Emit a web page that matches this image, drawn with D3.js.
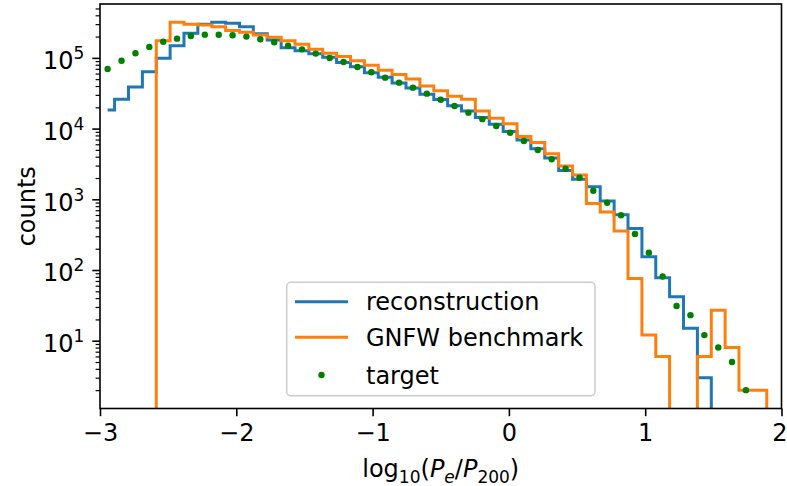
<!DOCTYPE html>
<html>
<head>
<meta charset="utf-8">
<script src="https://cdn.jsdelivr.net/npm/d3@7"></script>
<style>
  body { margin: 0; background: #fff; }
  text { font-family: "DejaVu Sans", sans-serif; }
</style>
</head>
<body>
<svg id="chart" width="787" height="486"></svg>
<script>
// bin centres of log10(Pe/P200)
const centers = [
  -2.944, -2.842, -2.740, -2.638, -2.536, -2.435, -2.333, -2.231, -2.129, -2.027,
  -1.926, -1.824, -1.722, -1.620, -1.518, -1.417, -1.315, -1.213, -1.111, -1.009,
  -0.908, -0.806, -0.704, -0.602, -0.500, -0.399, -0.297, -0.195, -0.093, 0.009,
  0.110, 0.212, 0.314, 0.416, 0.518, 0.619, 0.721, 0.823, 0.925, 1.027,
  1.128, 1.230, 1.332, 1.434, 1.536, 1.637, 1.739, 1.841, 1.943
];

// counts per bin
const reconstruction = [
  18300, 26000, 38700, 63800, 98700, 149000, 223000, 299000, 319000, 308000,
  276000, 220000, 179000, 139000, 126000, 114000, 102000, 86000, 75000, 61500,
  53000, 44000, 37500, 30500, 25800, 21000, 17800, 14300, 11500, 9100,
  6900, 5200, 3850, 2550, 1920, 1510, 946, 605, 385, 154,
  78, 42, 15, 3, 0, 0, 0, 0, 0
];

const benchmark = [
  0, 0, 0, 0, 175000, 319000, 300000, 292000, 276000, 243000,
  230000, 211000, 195000, 175000, 156000, 132000, 116000, 105000, 91200, 78500,
  67000, 58000, 50100, 40100, 34400, 28600, 26100, 17700, 14000, 11700,
  7700, 6350, 4400, 2960, 2200, 870, 660, 355, 76, 12,
  6, 0, 0, 6, 27, 8, 2, 2, 0
];

const target = [
  69700, 91200, 116000, 143000, 169000, 187000, 204000, 213000, 212000, 209000,
  200000, 183000, 166000, 149000, 132000, 115000, 99800, 87500, 74300, 62500,
  52500, 44600, 37900, 31200, 25600, 20900, 16800, 13600, 10900, 8750,
  6680, 4980, 3680, 2710, 2020, 1320, 895, 594, 323, 176,
  81, 31, 23, 12, 8, 5, 2, 1
];

const xTicks = [-3, -2, -1, 0, 1, 2];
const yTicks = [10, 100, 1000, 10000, 100000];
const seriesNames = ['reconstruction', 'GNFW benchmark', 'target'];

const svg = d3.select('#chart');
const width = 787, height = 486;
const margin = { left: 100, right: 5.5, top: 4, bottom: 77.5 };
const plotW = width - margin.left - margin.right;
const plotH = height - margin.top - margin.bottom;
const fontSize = 24;
const subSize = 17;

const x = d3.scaleLinear().domain([-3, 2]).range([0, plotW]);
const y = d3.scaleLog().domain([1.1, 5.78e5]).range([plotH, 0]);

const g = svg.append('g').attr('transform', `translate(${margin.left},${margin.top})`);

// clip to the axes box
svg.append('defs').append('clipPath')
  .attr('id', 'plot-clip')
  .append('rect')
  .attr('width', plotW)
  .attr('height', plotH);

const plot = g.append('g').attr('clip-path', 'url(#plot-clip)');

// zero counts go far below the axis, like matplotlib's log clipping
const yv = v => y(Math.max(v, 1e-3));

const stepLine = d3.line()
  .x((d, i) => x(centers[i]))
  .y(d => yv(d))
  .curve(d3.curveStep);

plot.append('path')
  .datum(reconstruction)
  .attr('d', stepLine)
  .attr('fill', 'none')
  .attr('stroke', '#1f77b4')
  .attr('stroke-width', 3);

plot.append('path')
  .datum(benchmark)
  .attr('d', stepLine)
  .attr('fill', 'none')
  .attr('stroke', '#ff7f0e')
  .attr('stroke-width', 3);

plot.selectAll('circle.target')
  .data(target)
  .enter()
  .append('circle')
  .attr('class', 'target')
  .attr('cx', (d, i) => x(centers[i]))
  .attr('cy', d => yv(d))
  .attr('r', 3.2)
  .attr('fill', 'green');

// x axis
const xAxis = g.append('g')
  .attr('transform', `translate(0,${plotH})`)
  .call(d3.axisBottom(x)
    .tickValues(xTicks)
    .tickSize(7.7)
    .tickPadding(8)
    .tickFormat(d => d < 0 ? '\u2212' + Math.abs(d) : String(d)));
xAxis.select('.domain').remove();
xAxis.selectAll('line').attr('stroke', '#000').attr('stroke-width', 1.6);
xAxis.selectAll('text').attr('font-size', fontSize).attr('fill', '#000')
  .attr('font-family', '"DejaVu Sans", sans-serif');
// keep the last label inside the page edge
xAxis.selectAll('text').filter(d => d === 2).attr('dx', -2);

// y axis, minor ticks first
const minorTicks = [];
for (let e = 0; e <= 5; e++) {
  for (let m = 2; m <= 9; m++) {
    const v = m * Math.pow(10, e);
    if (v >= y.domain()[0] && v <= y.domain()[1]) minorTicks.push(v);
  }
}
const yMinor = g.append('g')
  .call(d3.axisLeft(y).tickValues(minorTicks).tickSize(4.4).tickFormat(''));
yMinor.select('.domain').remove();
yMinor.selectAll('line').attr('stroke', '#000').attr('stroke-width', 1.2);

const yAxis = g.append('g')
  .call(d3.axisLeft(y).tickValues(yTicks).tickSize(7.7).tickPadding(8).tickFormat(''));
yAxis.select('.domain').remove();
yAxis.selectAll('line').attr('stroke', '#000').attr('stroke-width', 1.6);
yAxis.selectAll('.tick text').each(function (d) {
  const t = d3.select(this)
    .attr('font-size', fontSize)
    .attr('fill', '#000')
    .attr('font-family', '"DejaVu Sans", sans-serif')
    .attr('dy', '0.45em');
  t.text('10');
  t.append('tspan')
    .attr('font-size', subSize)
    .attr('dy', -10)
    .text(Math.round(Math.log10(d)));
});

// axes box
g.append('rect')
  .attr('width', plotW)
  .attr('height', plotH)
  .attr('fill', 'none')
  .attr('stroke', '#000')
  .attr('stroke-width', 1.6);

// axis labels
const xLabel = svg.append('text')
  .attr('x', margin.left + plotW / 2)
  .attr('y', 477)
  .attr('text-anchor', 'middle')
  .attr('font-size', fontSize);
xLabel.append('tspan').text('log');
xLabel.append('tspan').attr('font-size', subSize).attr('dy', 6).text('10');
xLabel.append('tspan').attr('dy', -6).text('(');
xLabel.append('tspan').attr('font-style', 'italic').text('P');
xLabel.append('tspan').attr('font-size', subSize).attr('font-style', 'italic').attr('dy', 6).text('e');
xLabel.append('tspan').attr('dy', -6).text('/');
xLabel.append('tspan').attr('font-style', 'italic').text('P');
xLabel.append('tspan').attr('font-size', subSize).attr('dy', 6).text('200');
xLabel.append('tspan').attr('dy', -6).text(')');

svg.append('text')
  .attr('transform', `translate(35,${margin.top + plotH / 2}) rotate(-90)`)
  .attr('text-anchor', 'middle')
  .attr('font-size', fontSize)
  .text('counts');

// legend
const legend = svg.append('g').attr('transform', 'translate(286.7,282.3)');
legend.append('rect')
  .attr('width', 308.3)
  .attr('height', 113.4)
  .attr('rx', 4)
  .attr('fill', '#fff')
  .attr('fill-opacity', 0.8)
  .attr('stroke', '#cccccc')
  .attr('stroke-width', 1.5);

const legendColors = ['#1f77b4', '#ff7f0e', 'green'];
const rowY = [19.4, 55, 92.7];
seriesNames.forEach((name, i) => {
  const row = legend.append('g').attr('transform', `translate(0,${rowY[i]})`);
  if (i < 2) {
    row.append('line')
      .attr('x1', 8.3).attr('x2', 61.3)
      .attr('stroke', legendColors[i])
      .attr('stroke-width', 3);
  } else {
    row.append('circle')
      .attr('cx', 34.8)
      .attr('r', 3.2)
      .attr('fill', legendColors[i]);
  }
  row.append('text')
    .attr('x', 79.3)
    .attr('dy', '0.36em')
    .attr('font-size', fontSize)
    .text(name);
});
</script>
</body>
</html>
